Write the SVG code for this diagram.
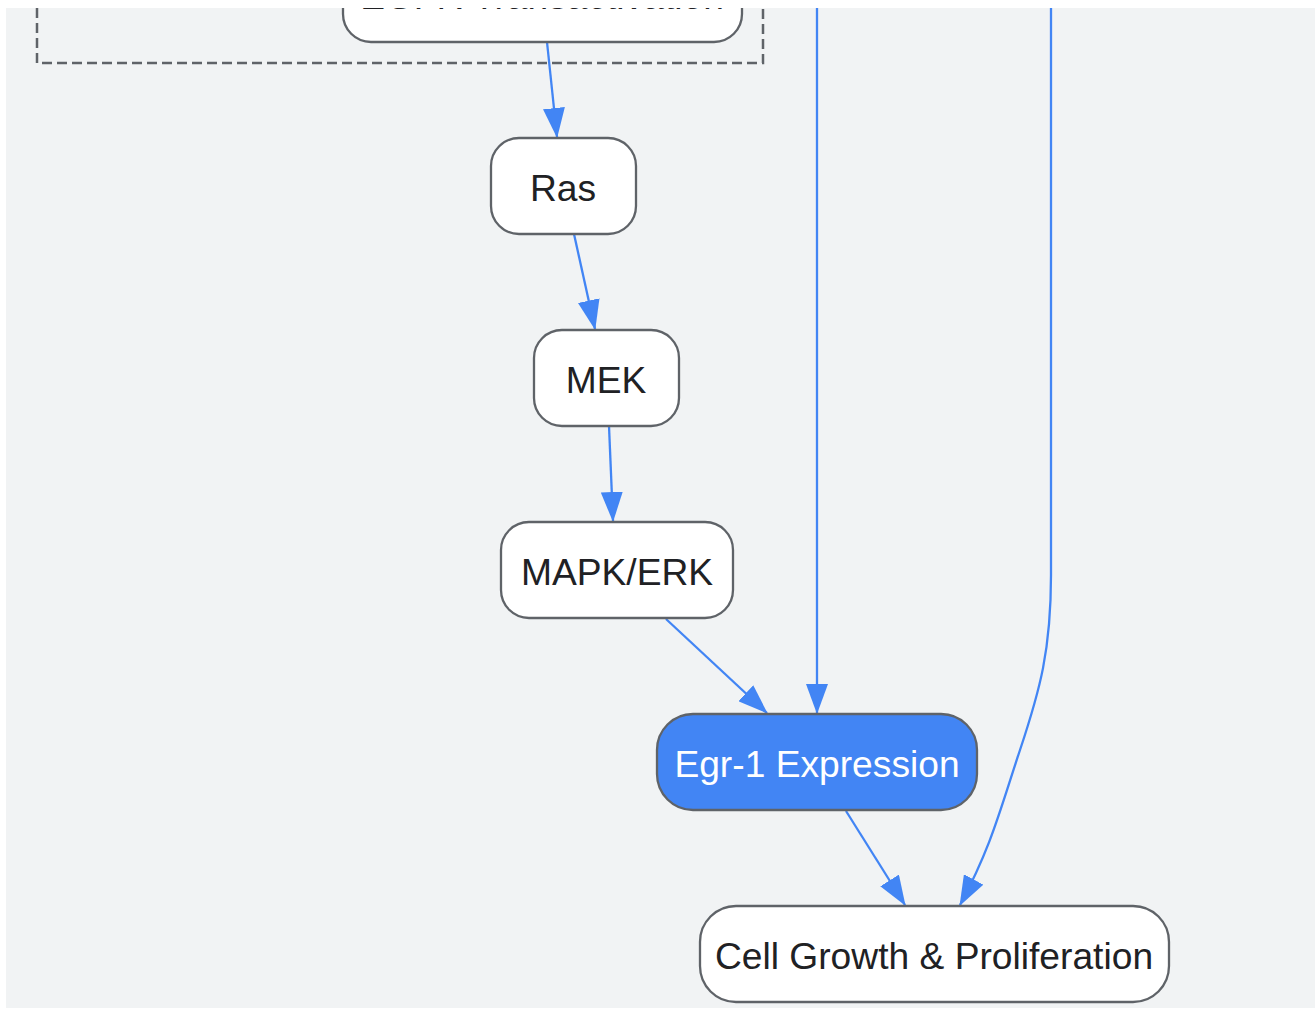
<svg xmlns="http://www.w3.org/2000/svg" width="1315" height="1009" viewBox="0 0 1315 1009">
<style>
.node rect{fill:#ffffff;stroke:#5f6368;stroke-width:2.3}
.node text{font-family:"Liberation Sans",Arial,sans-serif;font-size:37.2px;fill:#202124;text-anchor:middle}
.hl rect{fill:#4285f4}
.hl text{fill:#ffffff}
.edge{fill:none;stroke:#4285f4;stroke-width:2.3;marker-end:url(#arr)}
</style>
<defs>
<marker id="arr" markerUnits="userSpaceOnUse" markerWidth="30" markerHeight="22" refX="29" refY="11" orient="auto">
<path d="M0,0 L30,11 L0,22 Z" fill="#4285f4"/>
</marker>
<clipPath id="view"><rect x="6" y="8" width="1309" height="1001"/></clipPath>
</defs>
<rect width="1315" height="1009" fill="#ffffff"/>
<rect x="6" y="8" width="1309" height="1000" fill="#f1f3f4"/>
<g clip-path="url(#view)">
<rect id="cluster" x="37" y="-300" width="726" height="363" fill="none" stroke="#5f6368" stroke-width="2.5" stroke-dasharray="10,5"/>
<g id="connectors">
<path class="edge" d="M547,42 L557,137"/>
<path class="edge" d="M574,234 L595,329"/>
<path class="edge" d="M609,426 L613,521"/>
<path class="edge" d="M666,619 L767,713"/>
<path class="edge" d="M817,0 L817,713"/>
<path class="edge" d="M1051,0 L1051,575 C1051,650 1040,690 1020,750 C1000,810 992,845 960,905"/>
<path class="edge" d="M846,811 L905,905"/>
</g>
<g id="egfr" class="node"><rect x="343" y="-54" width="399" height="96" rx="28"/><text x="542" y="9">EGFR Transactivation</text></g>
<g id="ras" class="node"><rect x="491" y="138" width="145" height="96" rx="28"/><text x="563" y="201">Ras</text></g>
<g id="mek" class="node"><rect x="534" y="330" width="145" height="96" rx="28"/><text x="606" y="393">MEK</text></g>
<g id="mapk" class="node"><rect x="501" y="522" width="232" height="96" rx="28"/><text x="617" y="585">MAPK/ERK</text></g>
<g id="egr1" class="node hl"><rect x="657" y="714" width="320" height="96" rx="36"/><text x="817" y="777">Egr-1 Expression</text></g>
<g id="growth" class="node"><rect x="700" y="906" width="469" height="96" rx="36"/><text x="934" y="969">Cell Growth &amp; Proliferation</text></g>
</g>
</svg>
